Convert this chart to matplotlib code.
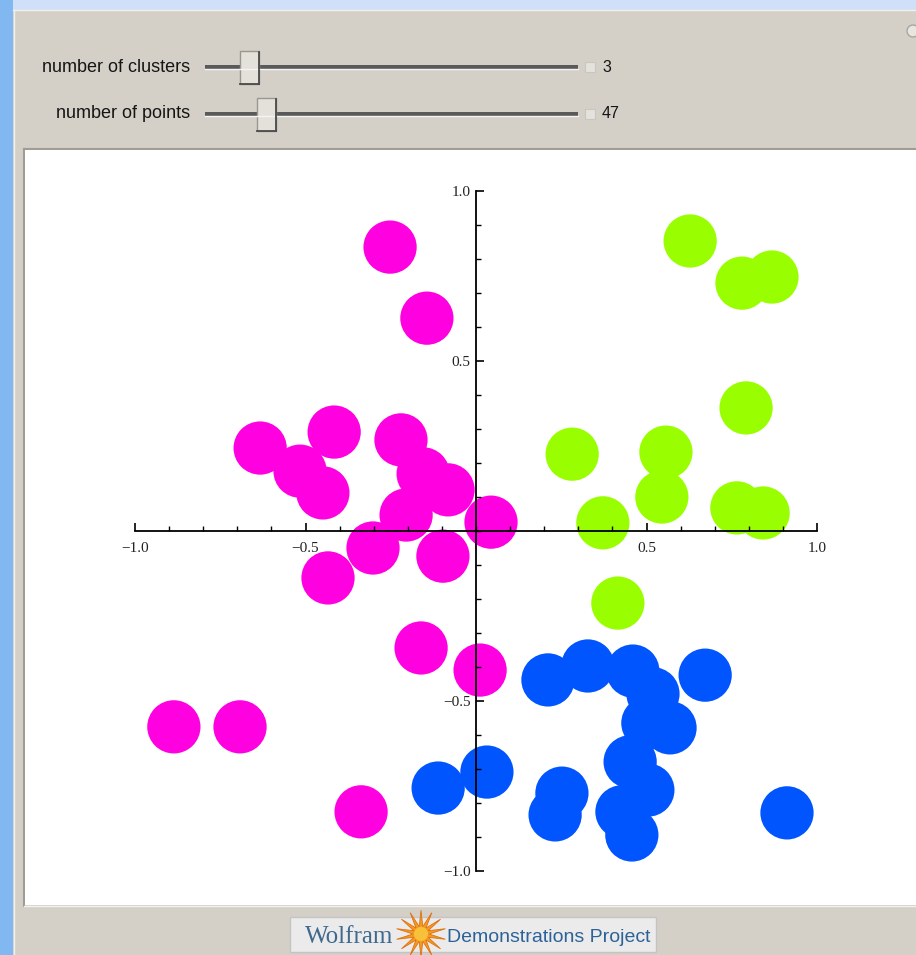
import matplotlib
matplotlib.use("Agg")
import matplotlib.pyplot as plt
from matplotlib.patches import Rectangle, Circle, Polygon
from matplotlib.ticker import FixedLocator, FuncFormatter
import numpy as np

# ---- data ----
magenta_x = [-0.252, -0.144, -0.633, -0.416, -0.220, -0.516, -0.449, -0.155, -0.082, -0.205,
             0.044, -0.302, -0.097, -0.434, -0.161, 0.012, -0.886, -0.692, -0.337]
magenta_y = [0.835, 0.626, 0.244, 0.291, 0.268, 0.176, 0.112, 0.168, 0.121, 0.047,
             0.026, -0.050, -0.074, -0.138, -0.344, -0.409, -0.576, -0.576, -0.826]
green_x = [0.628, 0.780, 0.868, 0.792, 0.282, 0.557, 0.545, 0.372, 0.765, 0.842, 0.416]
green_y = [0.853, 0.729, 0.747, 0.362, 0.226, 0.232, 0.100, 0.024, 0.068, 0.053, -0.212]
blue_x = [0.211, 0.328, 0.460, 0.519, 0.672, 0.504, 0.569, 0.452, 0.504, 0.428, 0.457,
          0.252, 0.232, 0.032, -0.111, 0.912]
blue_y = [-0.438, -0.397, -0.412, -0.479, -0.424, -0.565, -0.579, -0.679, -0.762, -0.826,
          -0.894, -0.771, -0.835, -0.709, -0.756, -0.829]
major_ticks = [-1.0, -0.5, 0.5, 1.0]
slider_labels = ["number of clusters", "number of points"]
slider_values = ["3", "47"]

W, H = 916, 955
fig = plt.figure(figsize=(W / 100, H / 100), dpi=100)

# ---- background / UI overlay in pixel coords ----
bg = fig.add_axes([0, 0, 1, 1], zorder=0)
bg.set_xlim(0, W)
bg.set_ylim(H, 0)
bg.axis("off")
bg.add_patch(Rectangle((0, 0), W, H, facecolor="#cfe0f8", edgecolor="none"))
bg.add_patch(Rectangle((0, 0), 13, H, facecolor="#82b8f2", edgecolor="none"))
bg.add_patch(Rectangle((13, 10), W - 13, H - 10, facecolor="#d4d0c8", edgecolor="none"))
bg.add_line(plt.Line2D([13, W], [10.5, 10.5], color="#f2f0ea", lw=1))
bg.add_line(plt.Line2D([13.5, 13.5], [10, H], color="#f2f0ea", lw=1))
# sunken border of plot area
bg.add_line(plt.Line2D([24, 24], [149, 906], color="#a09c94", lw=1.5))
bg.add_line(plt.Line2D([24, W], [149, 149], color="#a09c94", lw=1.5))
bg.add_line(plt.Line2D([24, W], [906, 906], color="#f4f2ee", lw=1))

# sliders
thumbs = [(240, 67), (257, 114)]
for i, (lab, val) in enumerate(zip(slider_labels, slider_values)):
    tx, yc = thumbs[i]
    bg.text(190, yc, lab, ha="right", va="center", fontsize=13,
            family=["Liberation Sans", "DejaVu Sans"], color="#151515")
    bg.add_patch(Rectangle((205, yc - 2), 373, 4, facecolor="#5a5a5a", edgecolor="none"))
    bg.add_line(plt.Line2D([205, 578], [yc + 2.5, yc + 2.5], color="#f4f4f4", lw=1))
    bg.add_patch(Rectangle((tx, yc - 16), 19, 33, facecolor="#e4e1da",
                           edgecolor="#9a978f", lw=1))
    bg.add_line(plt.Line2D([tx + 19, tx + 19], [yc - 15, yc + 17], color="#4a4a4a", lw=1.3))
    bg.add_line(plt.Line2D([tx, tx + 19], [yc + 17, yc + 17], color="#4a4a4a", lw=1.3))
    bg.add_patch(Rectangle((585, yc - 5), 10, 10, facecolor="#e4e2dc",
                           edgecolor="#c8c6c0", lw=0.8))
    bg.text(602, yc, val, ha="left", va="center", fontsize=11.5,
            family=["Liberation Sans", "DejaVu Sans"], color="#151515")

# top-right small icon (partially visible)
bg.add_patch(Circle((913, 31), 6, facecolor="#e8e6e0", edgecolor="#a8a6a0", lw=1))

# logo
bg.add_patch(Rectangle((290, 917), 366, 35, facecolor="#ebebeb", edgecolor="#c4c4c4", lw=1))
bg.text(305, 937, "Wolfram", ha="left", va="center", fontsize=18,
        family="Liberation Serif", color="#40698e")
angles = np.linspace(0, 2 * np.pi, 29)[:-1] + np.pi / 2
rad = np.where(np.arange(28) % 2 == 0, 25, 8)
star = np.column_stack([421 + rad * np.cos(angles), 934 + rad * np.sin(angles) * 0.95])
bg.add_patch(Polygon(star, closed=True, facecolor="#f39a22", edgecolor="#e07010", lw=0.6))
bg.add_patch(Circle((421, 934), 7, facecolor="#f7c23a", edgecolor="none"))
bg.text(447, 937, "Demonstrations Project", ha="left", va="center", fontsize=14,
        family=["Liberation Sans", "DejaVu Sans"], color="#2d6298")

# ---- plot axes ----
ax = fig.add_axes([25 / W, 1 - 905 / H, 1 - 25 / W, (905 - 150) / H], zorder=1)
ax.set_facecolor("white")
ax.set_xlim((25 - 476) / 341, (W - 476) / 341)
ax.set_ylim((531 - 905) / 340, (531 - 150) / 340)

ms = 1470
ax.scatter(magenta_x, magenta_y, s=ms, color="#ff00e0", edgecolors="none", zorder=1)
ax.scatter(green_x, green_y, s=ms, color="#99ff00", edgecolors="none", zorder=1)
ax.scatter(blue_x, blue_y, s=ms, color="#0055ff", edgecolors="none", zorder=1)

for s in ["top", "right"]:
    ax.spines[s].set_visible(False)
for s in ["left", "bottom"]:
    ax.spines[s].set_position(("data", 0))
    ax.spines[s].set_bounds(-1, 1)
    ax.spines[s].set_linewidth(1.3)
    ax.spines[s].set_color("black")
    ax.spines[s].set_zorder(5)

ax.xaxis.set_major_locator(FixedLocator(major_ticks))
ax.yaxis.set_major_locator(FixedLocator(major_ticks))
ax.xaxis.set_minor_locator(FixedLocator([v / 10 for v in range(-10, 11)]))
ax.yaxis.set_minor_locator(FixedLocator([v / 10 for v in range(-10, 11)]))
fmt = FuncFormatter(lambda v, p: ("\u2212" if v < 0 else "") + f"{abs(v):.1f}")
ax.xaxis.set_major_formatter(fmt)
ax.yaxis.set_major_formatter(fmt)
ax.tick_params(which="major", direction="in", length=6, width=1.2, color="black",
               labelsize=11)
ax.tick_params(axis="x", which="major", pad=8)
ax.tick_params(axis="y", which="major", pad=4)
ax.tick_params(which="minor", direction="in", length=3.5, width=1.0, color="black")
for lab in ax.get_xticklabels() + ax.get_yticklabels():
    lab.set_family("Liberation Serif")
    lab.set_color("#222222")

fig.savefig("out.png", dpi=100)
